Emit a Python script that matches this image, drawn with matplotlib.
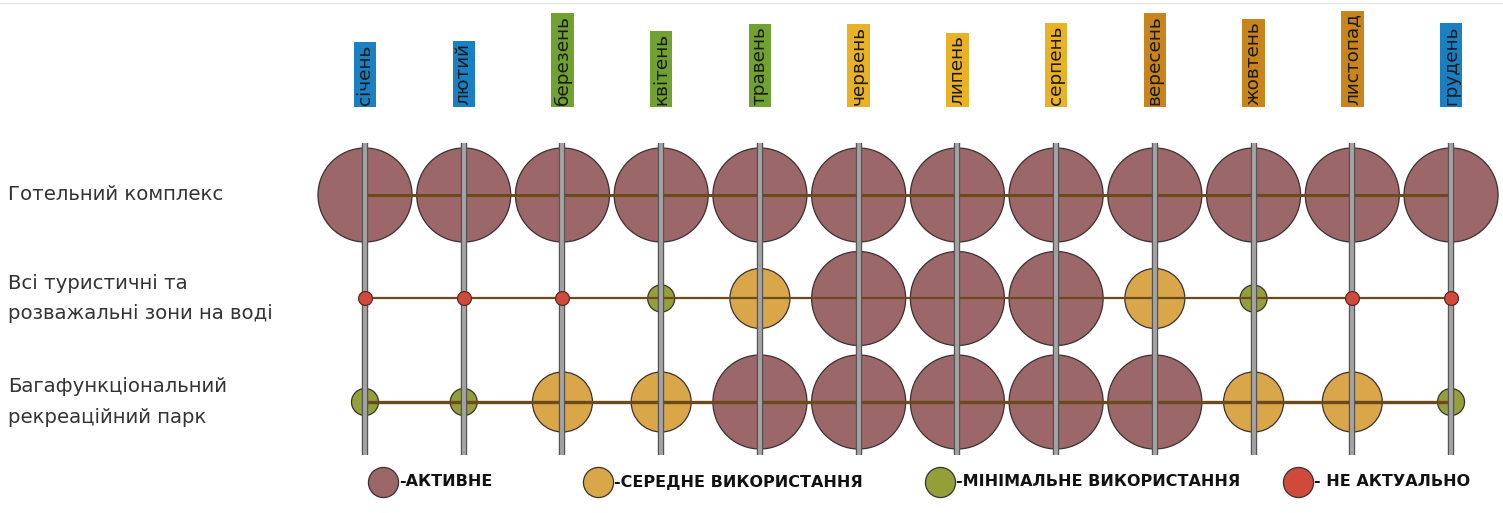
import matplotlib
matplotlib.use("Agg")
import matplotlib.pyplot as plt

months = ["січень", "лютий", "березень", "квітень", "травень", "червень",
          "липень", "серпень", "вересень", "жовтень", "листопад", "грудень"]
month_season = ["winter", "winter", "spring", "spring", "spring", "summer",
                "summer", "summer", "autumn", "autumn", "autumn", "winter"]
rows = ["Готельний комплекс",
        "Всі туристичні та\nрозважальні зони на воді",
        "Багафункціональний\nрекреаційний парк"]
# usage level: 3 = active, 2 = medium, 1 = minimal, 0 = not relevant
hotel = [3, 3, 3, 3, 3, 3, 3, 3, 3, 3, 3, 3]
water = [0, 0, 0, 1, 2, 3, 3, 3, 2, 1, 0, 0]
park = [1, 1, 2, 2, 3, 3, 3, 3, 3, 2, 2, 1]
legend_labels = ["-АКТИВНЕ", "-СЕРЕДНЕ ВИКОРИСТАННЯ",
                 "-МІНІМАЛЬНЕ ВИКОРИСТАННЯ", "- НЕ АКТУАЛЬНО"]
legend_levels = [3, 2, 1, 0]

season_color = {"winter": "#1a80c2", "spring": "#70a131",
                "summer": "#e8b126", "autumn": "#c8851e"}
level_color = {3: "#9c6769", 2: "#d9a74a", 1: "#93a039", 0: "#d04a3c"}
level_size = {3: 4583, 2: 1866, 1: 378, 0: 100}

W, H = 1503, 513
fig = plt.figure(figsize=(W / 100, H / 100), dpi=100)
ax = fig.add_axes([0, 0, 1, 1])
dx, dy = 98.73, 103.5
x0, y0 = 365, 195
ax.set_xlim(-x0 / dx, -x0 / dx + W / dx)
ax.set_ylim(-y0 / dy + H / dy, -y0 / dy)
ax.axis("off")

xs = list(range(len(months)))
data = [hotel, water, park]
lw_h = [2.2, 1.6, 2.4]

# circles
for r, vals in enumerate(data):
    big = [(i, v) for i, v in zip(xs, vals) if v > 0]
    ax.scatter([i for i, v in big], [r] * len(big),
               s=[level_size[v] for i, v in big],
               c=[level_color[v] for i, v in big],
               edgecolors="#3b3030", linewidths=0.9, zorder=2)

# horizontal lines
for r in range(len(rows)):
    ax.plot([xs[0], xs[-1]], [r, r], color="#6b4a1c", lw=lw_h[r], zorder=3,
            solid_capstyle="butt")

# vertical bars
for i in xs:
    ax.plot([i, i], [-0.5, 2.51], color="#555555", lw=4.6, zorder=4,
            solid_capstyle="butt")
    ax.plot([i, i], [-0.5, 2.51], color="#a3a3a3", lw=2.8, zorder=5,
            solid_capstyle="butt")

# not-relevant dots on top
for r, vals in enumerate(data):
    small = [i for i, v in zip(xs, vals) if v == 0]
    if small:
        ax.scatter(small, [r] * len(small), s=level_size[0],
                   c=level_color[0], edgecolors="#5a2a25", linewidths=0.9,
                   zorder=6)

# month labels
for i, (m, s) in enumerate(zip(months, month_season)):
    ax.text(i, -0.87, m, rotation=90, ha="center", va="bottom",
            fontsize=13.3, color="#1a1a1a", family="DejaVu Sans",
            bbox=dict(boxstyle="square,pad=0.12", fc=season_color[s],
                      ec="none"), zorder=7)

# row labels (x in axes fraction, y in data)
for r, lab in enumerate(rows):
    ax.text(8 / W, r, lab, transform=ax.get_yaxis_transform(),
            ha="left", va="center", fontsize=14.2, color="#333333",
            linespacing=1.75)

# legend
leg_x = [383, 598, 940, 1298]
leg_y = 1 - 482 / H
for lx, lab, lv in zip(leg_x, legend_labels, legend_levels):
    ax.scatter([lx / W], [leg_y], s=470, c=level_color[lv],
               edgecolors="#3b3030", linewidths=0.9,
               transform=ax.transAxes, zorder=8, clip_on=False)
    ax.text((lx + 16) / W, leg_y, lab, transform=ax.transAxes,
            ha="left", va="center", fontsize=11.5, fontweight="bold",
            color="#111111")

ax.plot([0, 1], [1 - 3 / H, 1 - 3 / H], transform=ax.transAxes,
        color="#e6e6e6", lw=1)

fig.savefig("out.png", dpi=100)
